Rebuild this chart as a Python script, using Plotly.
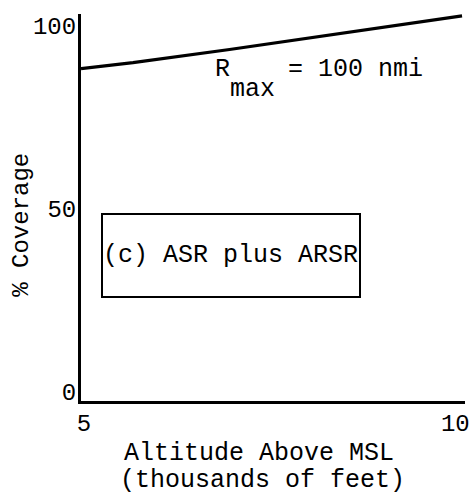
import plotly.graph_objects as go

# data
altitude = [5.0, 5.7, 7.0, 10.13]          # thousands of feet
coverage = [88.3, 89.9, 93.5, 102.7]       # % coverage
x_ticks = [5, 10]
y_ticks = [0, 50, 100]

FONT = "Liberation Mono, Courier New, monospace"

# plot area geometry (pixels)
W, H = 475, 500
L, R, T, B = 81, 5, 14, 99
pw, ph = W - L - R, H - T - B


def px(xp):
    return (xp - L) / pw


def py(yp):
    return (H - B - yp) / ph


fig = go.Figure()
fig.add_trace(go.Scatter(x=altitude, y=coverage, mode="lines",
                         line=dict(color="black", width=3.2),
                         showlegend=False, hoverinfo="skip"))

fig.update_layout(
    width=W, height=H,
    margin=dict(l=L, r=R, t=T, b=B, pad=0),
    paper_bgcolor="white", plot_bgcolor="white",
    font=dict(family=FONT, size=24, color="black"),
    xaxis=dict(range=[5, 10.17], tickvals=x_ticks, ticktext=[str(v) for v in x_ticks],
               showgrid=False, zeroline=False, showline=True, linecolor="black",
               linewidth=3, ticks="", ticklabelstandoff=-2, ticklabelshift=3,
               ticklabeloverflow="allow",
               tickfont=dict(family=FONT, size=24)),
    yaxis=dict(range=[-2.5, 103.2], tickvals=y_ticks, ticktext=[str(v) for v in y_ticks],
               showgrid=False, zeroline=False, showline=True, linecolor="black",
               linewidth=3, ticks="", ticklabelstandoff=-3,
               tickfont=dict(family=FONT, size=24)),
)


def label(text, xp, yp, size=25, **kw):
    d = dict(text=text, x=px(xp), y=py(yp), xref="paper", yref="paper",
             xanchor="center", yanchor="middle", showarrow=False,
             font=dict(family=FONT, size=size, color="black"))
    d.update(kw)
    return d


ann = [
    label("% Coverage", 21, 225, size=24, textangle=-90),
    label("Altitude Above MSL", 261, 453),
    label("(thousands of feet)", 265, 480),
    label("R", 224.5, 70),
    label("max", 254.5, 89),
    label("= 100 nmi", 359.5, 70),
    label("(c) ASR plus ARSR", 233, 255.5, width=256, height=81,
          bordercolor="black", borderwidth=2, borderpad=0, align="left",
          valign="middle", bgcolor="white"),
]
fig.update_layout(annotations=ann)

fig.write_html("out.html", config={"displayModeBar": False},
               post_script="document.body.style.margin='0';")
